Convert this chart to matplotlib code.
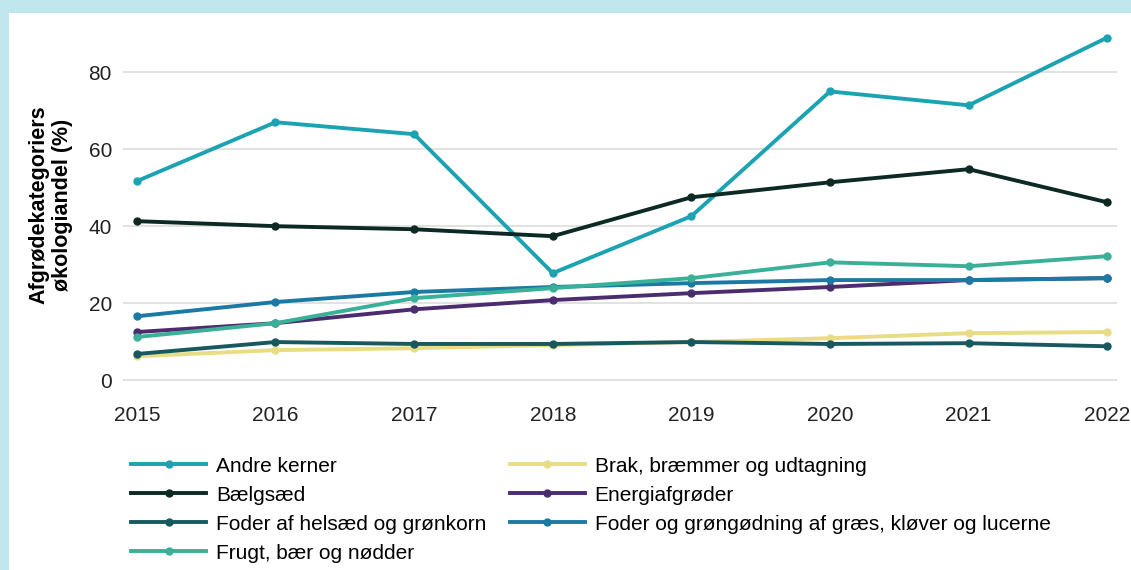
import matplotlib.pyplot as plt
from matplotlib.patches import Rectangle

# data
aar = [2015, 2016, 2017, 2018, 2019, 2020, 2021, 2022]

andre_kerner = [51.7, 67.0, 63.9, 27.8, 42.6, 75.0, 71.4, 89.0]
baelgsaed = [41.3, 40.0, 39.2, 37.4, 47.5, 51.4, 54.8, 46.2]
brak = [6.2, 7.8, 8.3, 9.1, 9.9, 10.9, 12.2, 12.5]
energi = [12.5, 14.8, 18.4, 20.8, 22.6, 24.2, 26.0, 26.5]
foder_helsaed = [6.8, 9.9, 9.4, 9.4, 9.9, 9.4, 9.6, 8.8]
foder_graes = [16.6, 20.3, 22.9, 24.2, 25.2, 26.0, 26.0, 26.5]
frugt = [11.2, 14.8, 21.3, 23.9, 26.5, 30.6, 29.6, 32.2]

navne = ["Andre kerner", "Brak, bræmmer og udtagning", "Bælgsæd", "Energiafgrøder",
         "Foder af helsæd og grønkorn", "Foder og grøngødning af græs, kløver og lucerne",
         "Frugt, bær og nødder"]
serier = [andre_kerner, brak, baelgsaed, energi, foder_helsaed, foder_graes, frugt]
farver = ["#1ba3b1", "#e8dd85", "#0c2a23", "#4b2c6e", "#17595e", "#1b7aa3", "#3bb098"]

plt.rcParams['font.family'] = ['Liberation Sans', 'DejaVu Sans']

fig = plt.figure(figsize=(11.31, 5.70), dpi=100)
fig.patch.set_facecolor("white")
# lyseblå kant øverst og til venstre
fig.patches.append(Rectangle((0, 1 - 13 / 570), 1, 13 / 570, transform=fig.transFigure,
                             facecolor="#bfe7ed", edgecolor="none", zorder=-1))
fig.patches.append(Rectangle((0, 0), 9 / 1131, 1, transform=fig.transFigure,
                             facecolor="#bfe7ed", edgecolor="none", zorder=-1))

ax = fig.add_axes([123 / 1131, 1 - 384 / 570, 994 / 1131, 358 / 570])

linjer = {}
for navn, y, farve in zip(navne, serier, farver):
    l, = ax.plot(aar, y, color=farve, linewidth=2.8, marker="o", markersize=5,
                 label=navn, clip_on=False)
    linjer[navn] = l

ax.set_xlim(2014.9, 2022.07)
ax.set_ylim(-1, 92)
ax.set_yticks([0, 20, 40, 60, 80])
ax.set_xticks(aar)
ax.tick_params(length=0, labelsize=15, colors="#222222")
ax.tick_params(axis="y", pad=8)
ax.tick_params(axis="x", pad=16)
ax.grid(axis="y", color="#e2e2e2", linewidth=1.4)
ax.set_axisbelow(True)
for s in ax.spines.values():
    s.set_visible(False)

ax.set_ylabel("Afgrødekategoriers\nøkologiandel (%)", fontsize=15.5, fontweight="bold",
              labelpad=11, linespacing=1.15)

rekkefolge = ["Andre kerner", "Bælgsæd", "Foder af helsæd og grønkorn", "Frugt, bær og nødder",
              "Brak, bræmmer og udtagning", "Energiafgrøder",
              "Foder og grøngødning af græs, kløver og lucerne"]
ax.legend([linjer[n] for n in rekkefolge], rekkefolge, ncol=2, frameon=False,
          loc="upper left", bbox_to_anchor=(0.0, -0.18), fontsize=15,
          handlelength=3.6, handletextpad=0.48, columnspacing=1.1, labelspacing=0.48,
          borderaxespad=0)

fig.savefig("out.png", dpi=100)
